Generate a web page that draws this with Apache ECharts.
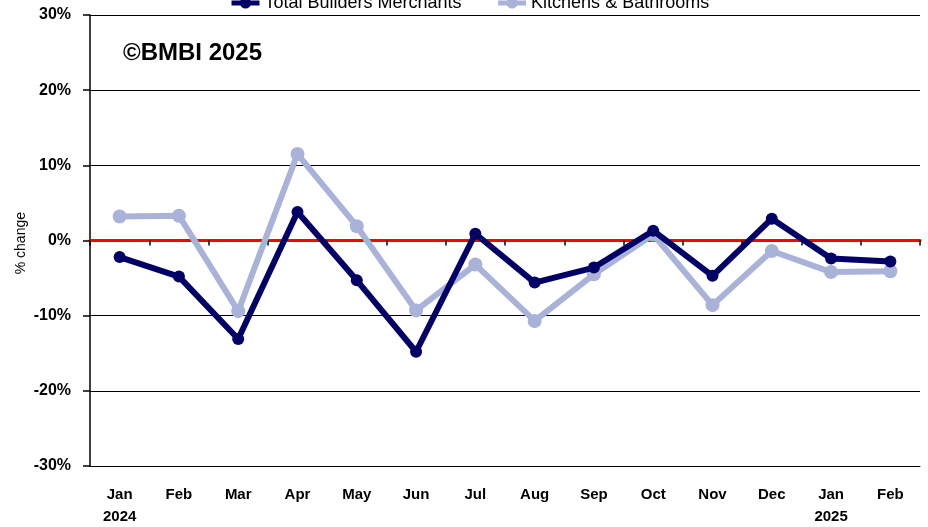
<!DOCTYPE html>
<html>
<head>
<meta charset="utf-8">
<script src="https://cdn.jsdelivr.net/npm/echarts@6/dist/echarts.min.js"></script>
<style>
  html, body { margin: 0; padding: 0; background: #fff; }
  #chart { width: 928px; height: 527px; }
</style>
</head>
<body>
<div id="chart"></div>
<script>
// months Jan 2024 .. Feb 2025
const months = ['Jan', 'Feb', 'Mar', 'Apr', 'May', 'Jun', 'Jul', 'Aug', 'Sep', 'Oct', 'Nov', 'Dec', 'Jan', 'Feb'];
const yearLabels = { 0: '2024', 12: '2025' };
const totalMerchants = [-2.2, -4.8, -13.1, 3.8, -5.3, -14.8, 0.9, -5.6, -3.6, 1.3, -4.7, 2.9, -2.4, -2.8];
const kitchensBathrooms = [3.2, 3.3, -9.4, 11.5, 1.9, -9.3, -3.2, -10.7, -4.5, 0.8, -8.6, -1.4, -4.2, -4.1];

const font = 'Liberation Sans, Arial, sans-serif';
const chart = echarts.init(document.getElementById('chart'));

chart.setOption({
  animation: false,
  textStyle: { fontFamily: font },
  title: {
    text: '©BMBI 2025',
    left: 118,
    top: 36,
    textStyle: { fontSize: 24, fontWeight: 'bold', color: '#000', fontFamily: font }
  },
  // y axis title, placed by hand
  graphic: [{
    type: 'text',
    left: 14,
    top: 212,
    rotation: Math.PI / 2,
    style: { text: '% change', fontSize: 14, fill: '#000', fontFamily: font }
  }],
  legend: {
    top: -11,
    left: 224,
    itemWidth: 28,
    itemHeight: 14,
    itemGap: 34,
    lineStyle: { width: 5 },
    textStyle: { fontSize: 18, color: '#000', fontFamily: font },
    data: ['Total Builders Merchants', 'Kitchens & Bathrooms']
  },
  grid: { left: 90, right: 8, top: 15, bottom: 61, outerBoundsMode: 'none' },
  xAxis: [
    {
      type: 'category',
      data: months,
      axisLine: { onZero: false, lineStyle: { color: '#000', width: 1 } },
      axisTick: { show: false },
      axisLabel: {
        color: '#000',
        fontWeight: 'bold',
        fontSize: 15,
        margin: 18,
        lineHeight: 22,
        formatter: (v, i) => yearLabels[i] ? v + '\n' + yearLabels[i] : v
      }
    },
    {
      type: 'category',
      data: months,
      position: 'bottom',
      axisLine: { onZero: true, lineStyle: { color: '#ff0000', width: 3 } },
      axisTick: { show: true, length: 5, lineStyle: { color: '#000', width: 1.5 } },
      axisLabel: { show: false }
    }
  ],
  yAxis: {
    type: 'value',
    min: -30,
    max: 30,
    interval: 10,
    axisLine: { show: true, lineStyle: { color: '#000', width: 1.5 } },
    axisTick: { show: true, length: 7, lineStyle: { color: '#000', width: 1.5 } },
    axisLabel: {
      color: '#000',
      fontWeight: 'bold',
      fontSize: 16,
      margin: 19,
      formatter: v => v + '%'
    },
    splitLine: { show: true, lineStyle: { color: '#000', width: 1 } }
  },
  series: [
    {
      name: 'Total Builders Merchants',
      type: 'line',
      data: totalMerchants,
      symbol: 'circle',
      symbolSize: 12,
      lineStyle: { width: 6, color: '#000066' },
      itemStyle: { color: '#000066' },
      z: 4
    },
    {
      name: 'Kitchens & Bathrooms',
      type: 'line',
      data: kitchensBathrooms,
      symbol: 'circle',
      symbolSize: 14,
      lineStyle: { width: 6, color: '#A9B2D8' },
      itemStyle: { color: '#A9B2D8' },
      z: 3
    }
  ]
});
</script>
</body>
</html>
